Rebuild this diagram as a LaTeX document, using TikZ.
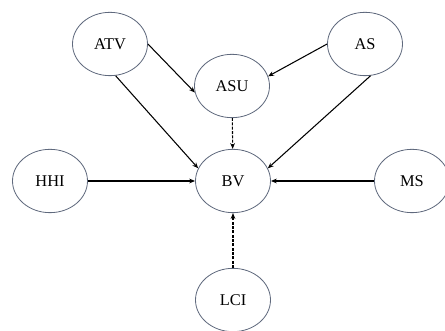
\documentclass[tikz,border=0pt]{standalone}
\usepackage{fontspec}
\setmainfont{Liberation Serif}
\usetikzlibrary{shapes.geometric,arrows.meta}
\definecolor{rim}{RGB}{95,105,125}
\tikzset{
  var/.style={ellipse, draw=rim, line width=0.7pt, minimum width=2.25cm, minimum height=1.9cm, font=\fontsize{14}{16}\selectfont},
  link/.style={-{Stealth[length=5pt,width=4pt]}, line width=0.9pt},
  weak/.style={link, dashed, dash pattern=on 2.5pt off 1.2pt}
}
\begin{document}
\begin{tikzpicture}
\useasboundingbox (0,0) rectangle (13.35cm, 9.93cm);
\node[var](ATV) at (3.3cm, 8.61cm) {ATV};
\node[var](AS) at (10.95cm, 8.61cm) {AS};
\node[var](ASU) at (6.96cm, 7.35cm) {ASU};
\node[var](BV) at (6.99cm, 4.5cm) {BV};
\node[var](HHI) at (1.5cm, 4.5cm) {HHI};
\node[var](MS) at (12.36cm, 4.5cm) {MS};
\node[var](LCI) at (6.99cm, 0.93cm) {LCI};

\draw[link] (ATV.east) -- (ASU.190);
\draw[link] (AS.west) -- (ASU.15);
\draw[link] (ATV.-80) -- (BV.160);
\draw[link] (AS.-80) -- (BV.20);
\draw[link] (HHI) -- (BV);
\draw[link] (MS) -- (BV);

\draw[weak] (ASU) -- (BV);
\draw[weak] (LCI) -- (BV);
\end{tikzpicture}
\end{document}
